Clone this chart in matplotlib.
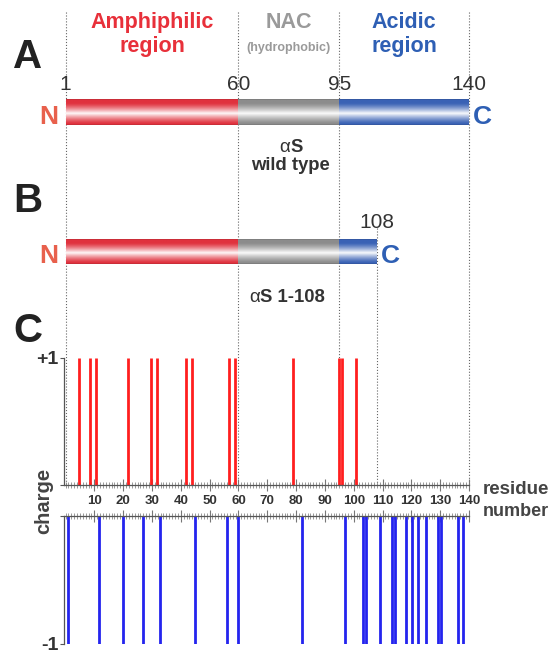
import numpy as np
import matplotlib
matplotlib.use('Agg')
import matplotlib.pyplot as plt
from matplotlib.colors import to_rgb

plt.rcParams['font.family'] = ['Liberation Sans', 'DejaVu Sans']

# domain boundaries of alpha-synuclein (full length and truncated)
edges = [0, 60, 95, 140]
edge_labels = ['1', '60', '95', '140']
trunc_end = 108
region_names = ['Amphiphilic\nregion', 'NAC', 'Acidic\nregion']
region_colors = ['#e8303a', '#9a9a9a', '#2e5fb4']
bar_colors = ['#e0323e', '#8c8c8c', '#3a62b5']

# positions of charged residues
pos_charge = [4.7, 8.5, 10.7, 21.6, 29.7, 31.7, 41.7, 43.8, 56.7, 58.8,
              78.8, 94.8, 95.9, 100.8]
neg_charge = [0.8, 11.7, 19.9, 26.9, 32.9, 44.9, 56.0, 59.9, 82.1, 97.1,
              103.3, 104.2, 109.1, 113.3, 114.2, 118.1, 120.2, 122.2,
              125.2, 129.4, 130.4, 136.1, 138.0]
res_ticks = list(range(10, 150, 10))

W, H = 551, 653
x0_px, scale = 65.5, 2.882   # pixel of residue 0, pixels per residue

fig = plt.figure(figsize=(W / 100, H / 100), dpi=100)

# background axes: x in residues, y in pixels from the top
ax = fig.add_axes([0, 0, 1, 1])
ax.axis('off')


def shade(color, n=80):
    rgb = np.array(to_rgb(color))
    t = np.linspace(0, 1, n)
    w = np.clip(1 - np.abs(2 * t - 1.1) * 1.25, 0, 1) ** 1.3 * 0.97
    img = rgb[None, :] * (1 - w[:, None]) + w[:, None]
    img[:2] = rgb * 0.85
    img[-2:] = rgb * 0.85
    return img[:, None, :]


def draw_bar(y_top, y_bot, stop):
    for i in range(3):
        a, b = edges[i], min(edges[i + 1], stop)
        if b <= a:
            continue
        ax.imshow(shade(bar_colors[i]), extent=(a, b, y_bot, y_top),
                  aspect='auto', interpolation='bilinear', zorder=3)


def alpha_label(xs, yb, rest):
    # thin greek alpha followed by bold text
    ax.text(xs, yb, 'α', ha='right', va='baseline', fontsize=13.5, color='#333333')
    ax.text(xs, yb, rest, ha='left', va='baseline', fontsize=13.3,
            fontweight='bold', color='#333333')


# dotted guide lines
for e in edges:
    ax.plot([e, e], [12, 485], ls=':', lw=0.8, color='#666666', zorder=1)
ax.plot([trunc_end, trunc_end], [228, 485], ls=':', lw=0.8, color='#666666', zorder=1)

# region headers
for i, name in enumerate(region_names):
    xc = (edges[i] + edges[i + 1]) / 2
    lines = name.split('\n')
    ax.text(xc, 28, lines[0], ha='center', va='baseline', fontsize=15.5,
            fontweight='bold', color=region_colors[i])
    if len(lines) > 1:
        ax.text(xc, 52, lines[1], ha='center', va='baseline', fontsize=15.5,
                fontweight='bold', color=region_colors[i])
ax.text((edges[1] + edges[2]) / 2, 51, '(hydrophobic)', ha='center', va='baseline',
        fontsize=9, fontweight='bold', color='#9a9a9a')

# panel A: wild type
for e, lab in zip(edges, edge_labels):
    ax.text(e, 90.5, lab, ha='center', va='baseline', fontsize=15, color='#333333')
draw_bar(99, 125, edges[-1])
nac_mid = (edges[1] + edges[2]) / 2
alpha_label(nac_mid + 0.5, 152.5, 'S')
ax.text(nac_mid + 0.5, 170, 'wild type', ha='center', va='baseline', fontsize=13.3,
        fontweight='bold', color='#333333')
ax.text(-2.4, 123.5, 'N', ha='right', va='baseline', fontsize=19,
        fontweight='bold', color='#e8604c')
ax.text(edges[-1] + 1.2, 123.5, 'C', ha='left', va='baseline', fontsize=19,
        fontweight='bold', color='#2e5fb4')

# panel B: truncated 1-108
ax.text(trunc_end, 228, str(trunc_end), ha='center', va='baseline', fontsize=15,
        color='#333333')
draw_bar(239.5, 264, trunc_end)
alpha_label(nac_mid - 10, 301.5, 'S 1-108')
ax.text(-2.4, 263, 'N', ha='right', va='baseline', fontsize=19,
        fontweight='bold', color='#e8604c')
ax.text(trunc_end + 1.4, 263, 'C', ha='left', va='baseline', fontsize=19,
        fontweight='bold', color='#2e5fb4')

# panel letters
for lab, yb in [('A', 68), ('B', 212), ('C', 342)]:
    ax.text(-13, yb, lab, ha='center', va='baseline', fontsize=29,
            fontweight='bold', color='#222222')

ax.text(-7.7, 501, 'charge', rotation=90, ha='center', va='center', fontsize=14.5,
        fontweight='bold', color='#444444')
ax.text((483 - x0_px) / scale, 494, 'residue', ha='left', va='baseline',
        fontsize=13.5, fontweight='bold', color='#444444')
ax.text((483 - x0_px) / scale, 515.5, 'number', ha='left', va='baseline',
        fontsize=13, fontweight='bold', color='#444444')

ax.set_xlim(-x0_px / scale, (W - x0_px) / scale)
ax.set_ylim(H, 0)


# panel C: charge plot, two stacked axes
def px_axes(top, bot):
    left = x0_px - 0.5 * scale
    width = 140.5 * scale
    return fig.add_axes([left / W, (H - bot) / H, width / W, (bot - top) / H])


ax_p = px_axes(358, 485)
ax_n = px_axes(516, 644)

ax_p.vlines(pos_charge, 0, 1, color='#ff1f1f', lw=2.0)
ax_n.vlines(neg_charge, -1, 0, color='#2424ee', lw=2.0)

for a in (ax_p, ax_n):
    a.set_facecolor('none')
    a.set_xlim(-0.5, 140)
    for s in a.spines.values():
        s.set_color('#555555')
        s.set_linewidth(0.9)
    a.set_xticks(res_ticks)
    a.set_xticks(range(0, 141), minor=True)
    a.tick_params(axis='x', which='major', direction='inout', length=8,
                  width=0.8, color='#777777')
    a.tick_params(axis='x', which='minor', direction='inout', length=4.5,
                  width=0.6, color='#888888')
    a.tick_params(axis='y', direction='out', length=3, width=0.8, color='#555555',
                  labelsize=14, pad=1)

ax_p.set_ylim(0, 1)
ax_p.spines['top'].set_visible(False)
ax_p.spines['right'].set_visible(False)
ax_p.set_xticklabels([str(t) for t in res_ticks], fontsize=9.5, fontweight='bold',
                     color='#333333')
ax_p.tick_params(axis='x', which='major', pad=3)
ax_p.set_yticks([0, 1])
ax_p.set_yticklabels(['', '+1'], fontweight='bold', color='#333333')

ax_n.set_ylim(-1, 0)
ax_n.spines['bottom'].set_visible(False)
ax_n.spines['right'].set_visible(False)
ax_n.xaxis.tick_top()
ax_n.tick_params(axis='x', which='both', labeltop=False)
ax_n.set_yticks([-1, 0])
ax_n.set_yticklabels(['-1', ''], fontweight='bold', color='#333333')

fig.savefig('out.png', dpi=100)
